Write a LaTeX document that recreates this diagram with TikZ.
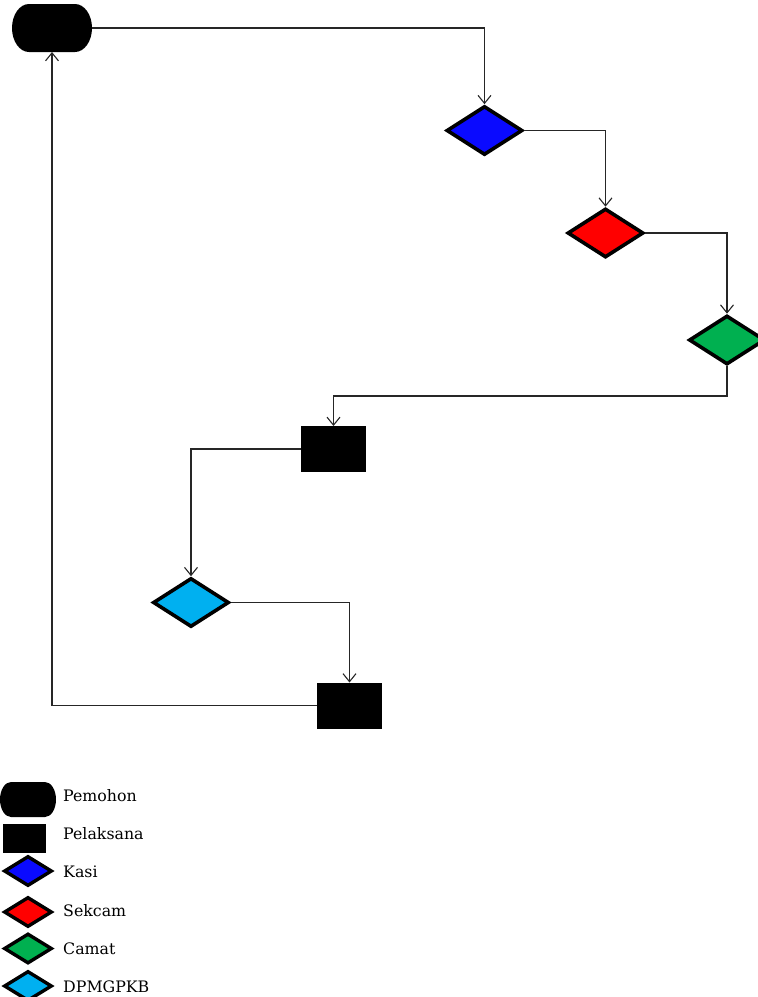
\documentclass[tikz,border=0pt]{standalone}
\usepackage{fontspec}
\setmainfont{DejaVu Serif}
\usetikzlibrary{shapes.geometric,arrows.meta}
\definecolor{kasiblue}{RGB}{10,10,255}
\definecolor{sekred}{RGB}{255,0,0}
\definecolor{camgreen}{RGB}{0,176,80}
\definecolor{dpblue}{RGB}{0,176,240}
\tikzset{
  terminal/.style={rectangle, inner sep=0pt, outer sep=0pt},
  pelbox/.style={rectangle, fill=black, draw=black, line width=1pt, inner sep=0pt},
  decision/.style={diamond, draw=black, line width=3.6pt, inner sep=0pt, minimum width=76pt, minimum height=49pt},
  legdec/.style={diamond, draw=black, line width=3.4pt, inner sep=0pt, minimum width=48pt, minimum height=30pt},
  conn/.style={draw=black!85, line width=1.1pt, -{Straight Barb[length=8pt,width=13pt]}},
  legtext/.style={anchor=base west, inner sep=0pt, font=\fontsize{15.8pt}{18pt}\selectfont}
}
\begin{document}
\begin{tikzpicture}[x=1pt,y=-1pt]
\useasboundingbox (0,0) rectangle (758,997);
% main flow
\node[terminal, minimum width=80pt, minimum height=48pt] (term) at (52,28) {};
\fill ([xshift=17pt]term.north west) -- ([xshift=-17pt]term.north east)
  arc[start angle=90, end angle=-90, x radius=17pt, y radius=24pt]
  -- ([xshift=17pt]term.south west)
  arc[start angle=270, end angle=90, x radius=17pt, y radius=24pt] -- cycle;
\node[decision, fill=kasiblue] (kasi) at (484.5,130.5) {};
\node[decision, fill=sekred] (sek) at (605.5,233) {};
\node[decision, fill=camgreen] (cam) at (727,340) {};
\node[pelbox, minimum width=64pt, minimum height=45pt] (r1) at (333.5,449) {};
\node[decision, fill=dpblue] (dp) at (191,602.5) {};
\node[pelbox, minimum width=64pt, minimum height=45pt] (r2) at (349.5,705.5) {};
\coordinate (bend) at (727,396);
% connectors
\draw[conn] (term.east) -| (kasi.north);
\draw[conn] (kasi.east) -| (sek.north);
\draw[conn] (sek.east) -| (cam.north);
\draw[conn] (cam.south) -- (bend) -| (r1.north);
\draw[conn] (r1.west) -| (dp.north);
\draw[conn] (dp.east) -| (r2.north);
\draw[conn] (r2.west) -| (term.south);
% legend
\node[terminal, minimum width=56pt, minimum height=35pt] (lpem) at (28,799.5) {};
\fill ([xshift=11pt]lpem.north west) -- ([xshift=-11pt]lpem.north east)
  arc[start angle=90, end angle=-90, x radius=11pt, y radius=17.5pt]
  -- ([xshift=11pt]lpem.south west)
  arc[start angle=270, end angle=90, x radius=11pt, y radius=17.5pt] -- cycle;
\node[pelbox, minimum width=42pt, minimum height=28pt] (lpel) at (24.5,838) {};
\node[legdec, fill=kasiblue] (lkasi) at (28,871) {};
\node[legdec, fill=sekred] (lsek) at (28,912) {};
\node[legdec, fill=camgreen] (lcam) at (28,948.5) {};
\node[legdec, fill=dpblue] (ldp) at (28,986) {};
\node[legtext] (tpem) at (63,801) {Pemohon};
\node[legtext] (tpel) at (63,839) {Pelaksana};
\node[legtext] (tkasi) at (63,877) {Kasi};
\node[legtext] (tsek) at (63,916) {Sekcam};
\node[legtext] (tcam) at (63,954) {Camat};
\node[legtext] (tdp) at (63,992) {DPMGPKB};
\end{tikzpicture}
\end{document}
